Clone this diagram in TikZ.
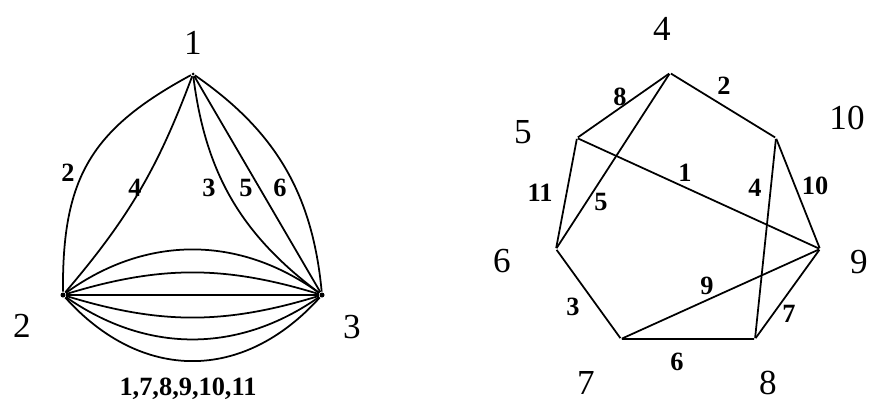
\documentclass[tikz,border=0pt]{standalone}
\usepackage{fontspec}
\setmainfont{Liberation Serif}
\usetikzlibrary{positioning}

\begin{document}
\begin{tikzpicture}[x=0.02cm, y=0.02cm, line width=1pt,
    vtx/.style={circle, fill, inner sep=0pt, minimum size=0.1cm},
    corner/.style={inner sep=0pt, minimum size=0pt},
    vlab/.style={font=\fontsize{20}{24}\selectfont},
    elab/.style={font=\fontsize{15}{17}\selectfont\bfseries, inner sep=1pt}]
  \useasboundingbox (0,0) rectangle (869,403);

  \node[vtx, minimum size=0.06cm] (v1) at (193,329) {};
  \node[vtx] (v2) at (63,108) {};
  \node[vtx] (v3) at (322,108) {};
  \node[vlab, above=0.2cm of v1] (n1) {1};
  \node[vlab] (n2) at (22,77) {2};
  \node[vlab] (n3) at (352,76) {3};

  \draw (v1) to[bend right=31, looseness=1.16] (v2);
  \draw (v1) to[bend left=10] (v2);
  \draw (v1) to[bend right=23] (v3);
  \draw (v1) -- (v3);
  \draw (v1) to[bend left=25] (v3);
  \foreach \a in {36,17,0,-17,-35}
    \draw (v2) to[bend left=\a] (v3);
  \draw (v2) to[bend right=48, looseness=1.15] (v3);

  \node[elab] (a2) at (68,230) {2};
  \node[elab] (a4) at (135,215) {4};
  \node[elab] (a3) at (209,215) {3};
  \node[elab] (a5) at (246,215) {5};
  \node[elab] (a6) at (280,215) {6};
  \node[elab] (ab) at (188,14) {1,7,8,9,10,11};

  \node[corner] (w4) at (670,330) {};
  \node[corner] (w10) at (776,265) {};
  \node[corner] (w9) at (820,154) {};
  \node[corner] (w8) at (755,64) {};
  \node[corner] (w7) at (621,64) {};
  \node[corner] (w6) at (556,154) {};
  \node[corner] (w5) at (577,265) {};
  \node[vlab] (n4) at (662,374) {4};
  \node[vlab] (n10) at (847,285) {10};
  \node[vlab] (n9) at (859,141) {9};
  \node[vlab] (n8) at (768,20) {8};
  \node[vlab] (n7) at (586,20) {7};
  \node[vlab] (n6) at (502,142) {6};
  \node[vlab] (n5) at (523,271) {5};

  \draw (w4) -- (w10) -- (w9) -- (w8) -- (w7) -- (w6) -- (w5) -- (w4);
  \draw (w5) -- (w9);
  \draw (w4) -- (w6);
  \draw (w10) -- (w8);
  \draw (w7) -- (w9);

  \node[elab] (b8) at (620,306) {8};
  \node[elab] (b2) at (724,317) {2};
  \node[elab] (b1) at (685,230) {1};
  \node[elab] (b4) at (755,215) {4};
  \node[elab] (b10) at (815,217) {10};
  \node[elab] (b11) at (540,210) {11};
  \node[elab] (b5) at (601,201) {5};
  \node[elab] (b9) at (707,117) {9};
  \node[elab] (b3) at (573,96) {3};
  \node[elab] (b7) at (789,89) {7};
  \node[elab] (b6) at (677,41) {6};
\end{tikzpicture}
\end{document}
